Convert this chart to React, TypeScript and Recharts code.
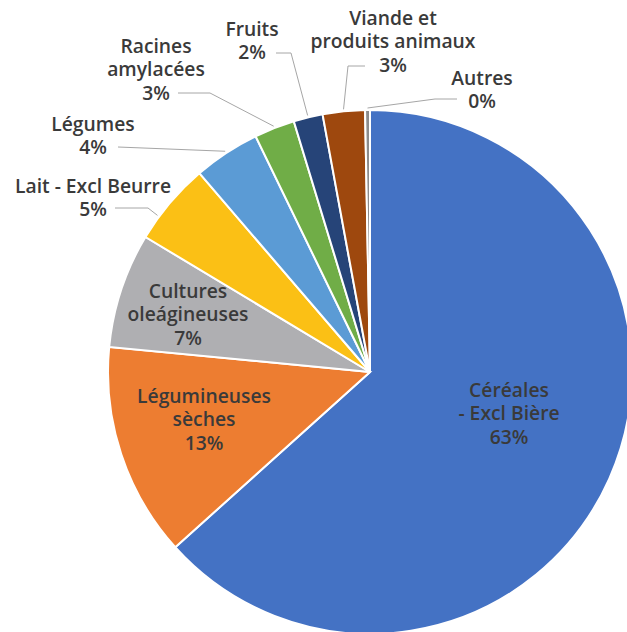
import React from "react";
import { PieChart, Pie, Cell } from "recharts";

// ---- data ----
const categories = [
  "Céréales - Excl Bière",
  "Légumineuses sèches",
  "Cultures oleágineuses",
  "Lait - Excl Beurre",
  "Légumes",
  "Racines amylacées",
  "Fruits",
  "Viande et produits animaux",
  "Autres",
];
const shares = [63.4, 13.2, 7.1, 5.1, 4.1, 2.5, 1.8, 2.6, 0.3];
const percentLabels = ["63%", "13%", "7%", "5%", "4%", "3%", "2%", "3%", "0%"];
const nameLines = [
  ["Céréales", "- Excl Bière"],
  ["Légumineuses", "sèches"],
  ["Cultures", "oleágineuses"],
  ["Lait - Excl Beurre"],
  ["Légumes"],
  ["Racines", "amylacées"],
  ["Fruits"],
  ["Viande et", "produits animaux"],
  ["Autres"],
];

// ---- styles ----
const colors = [
  "#4472C4",
  "#ED7D31",
  "#AFAFB2",
  "#FBC015",
  "#5B9BD5",
  "#70AD47",
  "#264478",
  "#9E480E",
  "#8C8C8C",
];

// label layout relative to pie centre: text x, first line y, leader start & knee, end angle shift
type Layout = { x: number; y: number; start?: [number, number]; knee?: [number, number]; shift?: number };
const labelLayout: Layout[] = [
  { x: 139, y: 17 },
  { x: -166, y: 23 },
  { x: -182, y: -82 },
  { x: -277, y: -187, start: [-255, -164], knee: [-222, -164], shift: 3.8 },
  { x: -277, y: -249, start: [-252, -225], knee: [-252, -225] },
  { x: -214, y: -327, start: [-192, -279], knee: [-160, -279] },
  { x: -118, y: -344, start: [-94, -319], knee: [-79, -319] },
  { x: 23, y: -355, start: [-5, -306], knee: [-22, -306] },
  { x: 112, y: -295, start: [87, -273], knee: [65, -273] },
];

const data = categories.map((name, i) => ({ name, value: shares[i] }));

const RADIAN = Math.PI / 180;
const LINE_H = 23.5;

const renderLabel = (props: any) => {
  const { cx, cy, midAngle, outerRadius, index } = props;
  const lay = labelLayout[index];
  const lines = [...nameLines[index], percentLabels[index]];
  const tx = cx + lay.x;
  const ty = cy + lay.y;
  let leader = null;
  if (lay.start && lay.knee) {
    const r = outerRadius + 2;
    const a = midAngle + (lay.shift || 0);
    const ex = cx + r * Math.cos(-a * RADIAN);
    const ey = cy + r * Math.sin(-a * RADIAN);
    const pts = `${cx + lay.start[0]},${cy + lay.start[1]} ${cx + lay.knee[0]},${cy + lay.knee[1]} ${ex},${ey}`;
    leader = <polyline points={pts} fill="none" stroke="#A6A6A6" strokeWidth={1} />;
  }
  return (
    <g key={`lbl-${index}`}>
      {leader}
      <text
        x={tx}
        y={ty}
        textAnchor="middle"
        fill="#3A3A3A"
        fontFamily="'Open Sans', sans-serif"
        fontWeight={600}
        fontSize={19.3}
      >
        {lines.map((t, k) => (
          <tspan key={k} x={tx} y={ty + k * LINE_H} dominantBaseline="central">
            {t}
          </tspan>
        ))}
      </text>
    </g>
  );
};

export default function App() {
  return (
    <div style={{ position: "absolute", left: 0, top: 0, width: 627, height: 632, background: "#fff" }}>
      <PieChart width={627} height={632} margin={{ top: 0, right: 0, bottom: 0, left: 0 }}>
        <Pie
          data={data}
          dataKey="value"
          nameKey="name"
          cx={370}
          cy={372}
          outerRadius={262}
          startAngle={90}
          endAngle={-270}
          stroke="#FFFFFF"
          strokeWidth={2}
          isAnimationActive={false}
          label={renderLabel}
          labelLine={false}
        >
          {data.map((d, i) => (
            <Cell key={d.name} fill={colors[i]} />
          ))}
        </Pie>
      </PieChart>
    </div>
  );
}
